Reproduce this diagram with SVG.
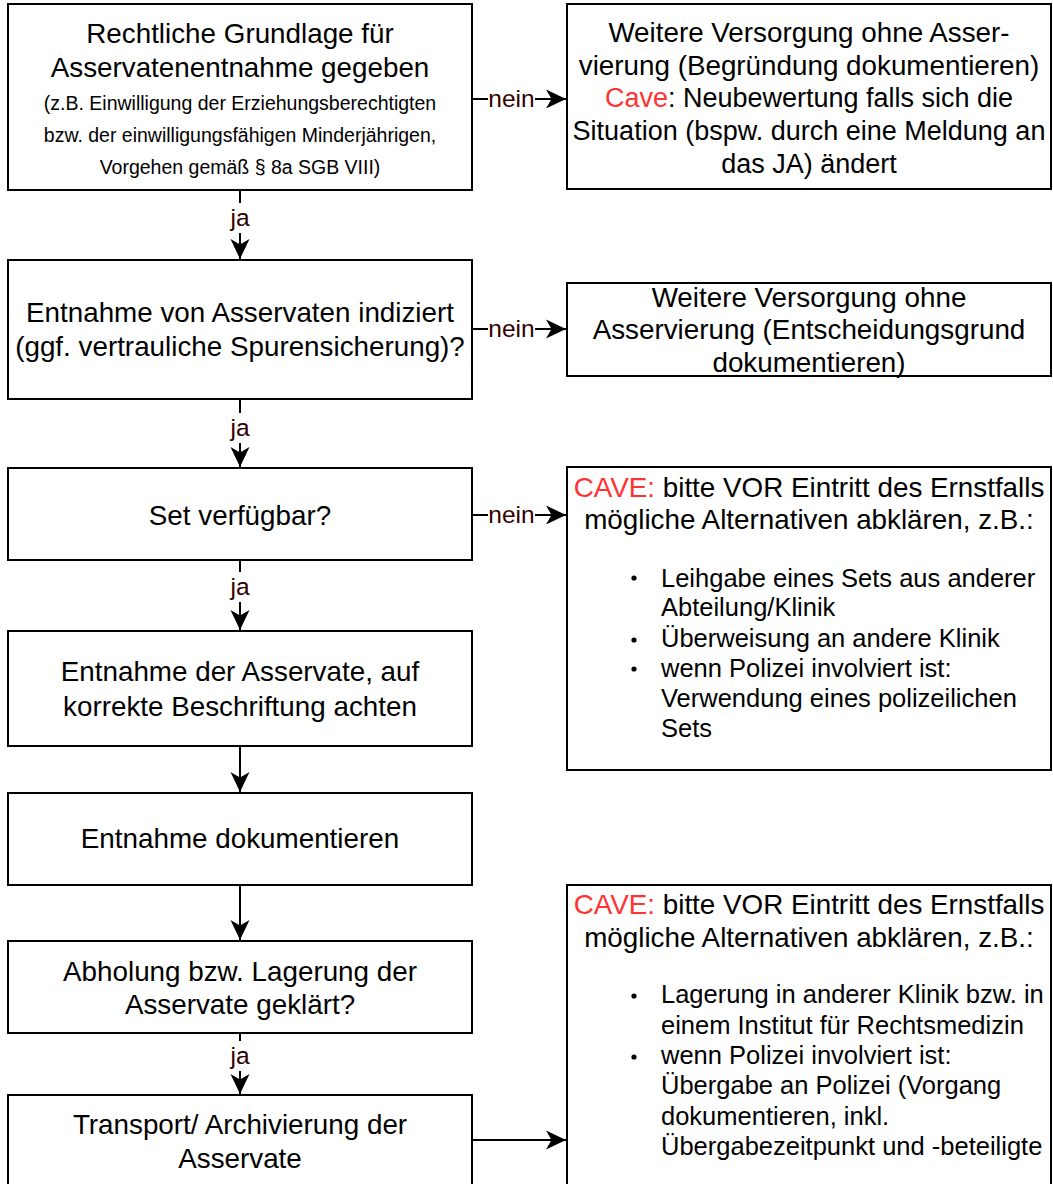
<svg xmlns="http://www.w3.org/2000/svg" width="1053" height="1184" viewBox="0 0 1053 1184">
  <style>
    .box { fill: #ffffff; stroke: #000000; stroke-width: 2; }
    .t { font-family: "Liberation Sans", Arial, sans-serif; font-size: 27.8px; fill: #000000; text-anchor: middle; }
    .m { font-family: "Liberation Sans", Arial, sans-serif; font-size: 27px; fill: #000000; text-anchor: middle; }
    .s { font-family: "Liberation Sans", Arial, sans-serif; font-size: 19.5px; fill: #000000; text-anchor: middle; }
    .b { font-family: "Liberation Sans", Arial, sans-serif; font-size: 25.5px; fill: #000000; }
    .red { fill: #ff3333; }
    .edge { fill: none; stroke: #000000; stroke-width: 2; }
    .lbl { font-family: "Liberation Sans", Arial, sans-serif; font-size: 24.5px; fill: #330000; text-anchor: middle; }
    .lblbg { fill: #ffffff; }
  </style>
  <defs>
    <marker id="arrow" markerUnits="userSpaceOnUse" markerWidth="21" markerHeight="20" refX="20" refY="10" orient="auto">
      <path d="M0,0.5 L20,10 L0,19.5 L5.5,10 Z" fill="#000000"/>
    </marker>
  </defs>
  <rect width="1053" height="1184" fill="#ffffff"/>

  <!-- connectors -->
  <g id="connectors">
    <path class="edge" d="M240,190 V259" marker-end="url(#arrow)"/>
    <path class="edge" d="M240,399 V467" marker-end="url(#arrow)"/>
    <path class="edge" d="M240,560 V630" marker-end="url(#arrow)"/>
    <path class="edge" d="M240,746 V792" marker-end="url(#arrow)"/>
    <path class="edge" d="M240,885 V940" marker-end="url(#arrow)"/>
    <path class="edge" d="M240,1033 V1094" marker-end="url(#arrow)"/>
    <path class="edge" d="M472,99 H566" marker-end="url(#arrow)"/>
    <path class="edge" d="M472,329 H566" marker-end="url(#arrow)"/>
    <path class="edge" d="M472,515 H566" marker-end="url(#arrow)"/>
    <path class="edge" d="M472,1140 H566" marker-end="url(#arrow)"/>

    <rect class="lblbg" x="229" y="203" width="22" height="30"/>
    <text class="lbl" x="240" y="226">ja</text>
    <rect class="lblbg" x="229" y="413" width="22" height="30"/>
    <text class="lbl" x="240" y="436">ja</text>
    <rect class="lblbg" x="229" y="572" width="22" height="30"/>
    <text class="lbl" x="240" y="595">ja</text>
    <rect class="lblbg" x="229" y="1041" width="22" height="30"/>
    <text class="lbl" x="240" y="1064">ja</text>

    <rect class="lblbg" x="488" y="87" width="47" height="24"/>
    <text class="lbl" x="511.5" y="107">nein</text>
    <rect class="lblbg" x="488" y="317" width="47" height="24"/>
    <text class="lbl" x="511.5" y="337">nein</text>
    <rect class="lblbg" x="488" y="503" width="47" height="24"/>
    <text class="lbl" x="511.5" y="523">nein</text>
  </g>

  <!-- left column -->
  <g id="legal-basis">
    <rect class="box" x="8" y="4" width="464" height="186"/>
    <text class="t" x="240" y="43">Rechtliche Grundlage für</text>
    <text class="t" x="240" y="77">Asservatenentnahme gegeben</text>
    <text class="s" x="240" y="110">(z.B. Einwilligung der Erziehungsberechtigten</text>
    <text class="s" x="240" y="142">bzw. der einwilligungsfähigen Minderjährigen,</text>
    <text class="s" x="240" y="174">Vorgehen gemäß § 8a SGB VIII)</text>
  </g>

  <g id="indicated">
    <rect class="box" x="8" y="260" width="464" height="139"/>
    <text class="t" x="240" y="322">Entnahme von Asservaten indiziert</text>
    <text class="t" x="240" y="356">(ggf. vertrauliche Spurensicherung)?</text>
  </g>

  <g id="set-available">
    <rect class="box" x="8" y="468" width="464" height="92"/>
    <text class="t" x="240" y="525">Set verfügbar?</text>
  </g>

  <g id="take-samples">
    <rect class="box" x="8" y="631" width="464" height="115"/>
    <text class="t" x="240" y="681">Entnahme der Asservate, auf</text>
    <text class="t" x="240" y="716">korrekte Beschriftung achten</text>
  </g>

  <g id="document">
    <rect class="box" x="8" y="793" width="464" height="92"/>
    <text class="t" x="240" y="848">Entnahme dokumentieren</text>
  </g>

  <g id="storage">
    <rect class="box" x="8" y="941" width="464" height="92"/>
    <text class="t" x="240" y="981">Abholung bzw. Lagerung der</text>
    <text class="t" x="240" y="1014">Asservate geklärt?</text>
  </g>

  <g id="transport">
    <rect class="box" x="8" y="1095" width="464" height="100"/>
    <text class="t" x="240" y="1134">Transport/ Archivierung der</text>
    <text class="t" x="240" y="1168">Asservate</text>
  </g>

  <!-- right column -->
  <g id="no-legal-basis">
    <rect class="box" x="567" y="4" width="484" height="185"/>
    <text class="t" x="809" y="42">Weitere Versorgung ohne Asser-</text>
    <text class="t" x="809" y="75">vierung (Begründung dokumentieren)</text>
    <text class="m" x="809" y="107"><tspan class="red">Cave</tspan>: Neubewertung falls sich die</text>
    <text class="m" x="809" y="140">Situation (bspw. durch eine Meldung an</text>
    <text class="m" x="809" y="173">das JA) ändert</text>
  </g>

  <g id="not-indicated">
    <rect class="box" x="567" y="283" width="484" height="93"/>
    <text class="t" x="809" y="307">Weitere Versorgung ohne</text>
    <text class="t" x="809" y="339">Asservierung (Entscheidungsgrund</text>
    <text class="t" x="809" y="372">dokumentieren)</text>
  </g>

  <g id="set-alternatives">
    <rect class="box" x="567" y="467" width="484" height="303"/>
    <text class="t" x="809" y="497"><tspan class="red">CAVE:</tspan> bitte VOR Eintritt des Ernstfalls</text>
    <text class="t" x="809" y="529">mögliche Alternativen abklären, z.B.:</text>
    <circle cx="634" cy="578" r="2.6" fill="#000"/>
    <text class="b" x="661" y="587">Leihgabe eines Sets aus anderer</text>
    <text class="b" x="661" y="616">Abteilung/Klinik</text>
    <circle cx="634" cy="640" r="2.6" fill="#000"/>
    <text class="b" x="661" y="647">Überweisung an andere Klinik</text>
    <circle cx="634" cy="669" r="2.6" fill="#000"/>
    <text class="b" x="661" y="677">wenn Polizei involviert ist:</text>
    <text class="b" x="661" y="707">Verwendung eines polizeilichen</text>
    <text class="b" x="661" y="737">Sets</text>
  </g>

  <g id="storage-alternatives">
    <rect class="box" x="567" y="885" width="484" height="310"/>
    <text class="t" x="809" y="914"><tspan class="red">CAVE:</tspan> bitte VOR Eintritt des Ernstfalls</text>
    <text class="t" x="809" y="947">mögliche Alternativen abklären, z.B.:</text>
    <circle cx="634" cy="996" r="2.6" fill="#000"/>
    <text class="b" x="661" y="1003">Lagerung in anderer Klinik bzw. in</text>
    <text class="b" x="661" y="1034">einem Institut für Rechtsmedizin</text>
    <circle cx="634" cy="1057" r="2.6" fill="#000"/>
    <text class="b" x="661" y="1064">wenn Polizei involviert ist:</text>
    <text class="b" x="661" y="1094">Übergabe an Polizei (Vorgang</text>
    <text class="b" x="661" y="1125">dokumentieren, inkl.</text>
    <text class="b" x="661" y="1155">Übergabezeitpunkt und -beteiligte</text>
  </g>
</svg>
